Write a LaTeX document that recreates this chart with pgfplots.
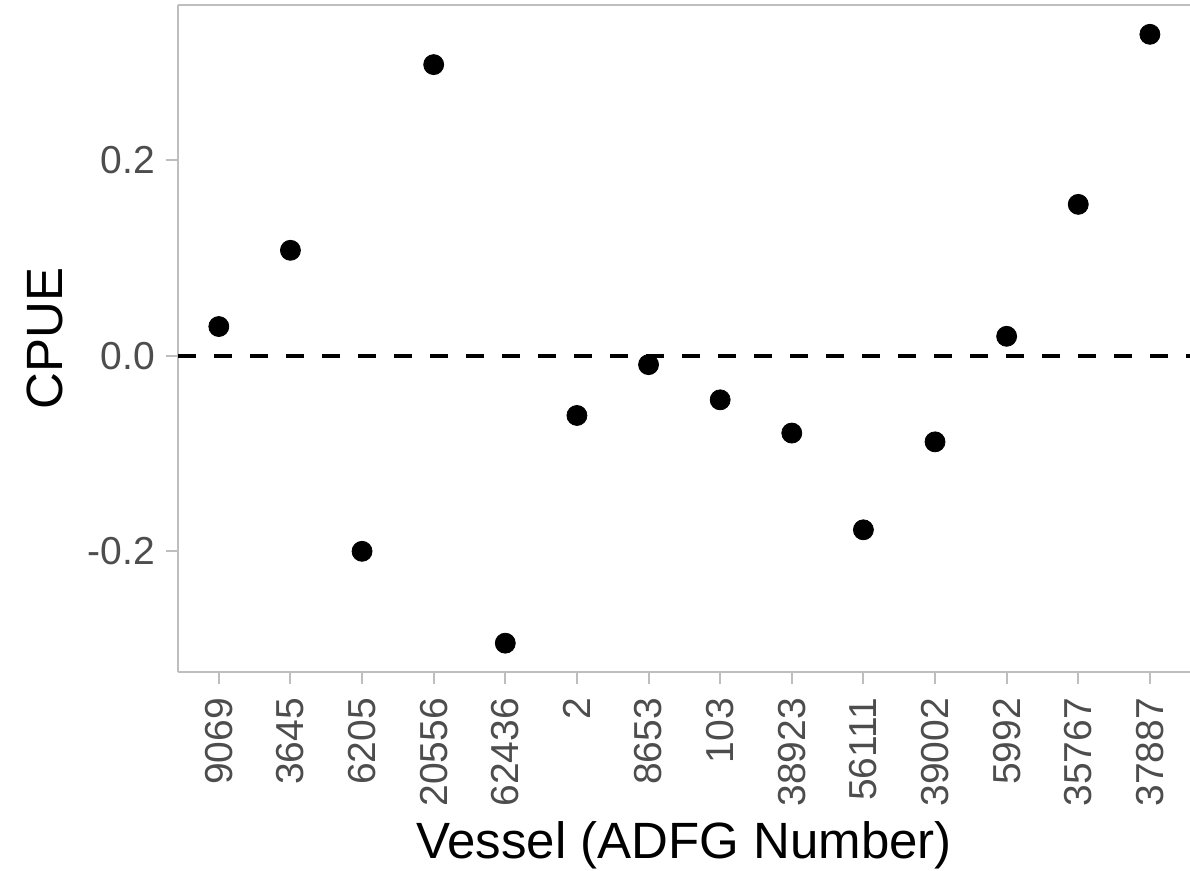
\documentclass[border=0pt]{standalone}
\usepackage{pgfplots}
\pgfplotsset{compat=1.18}
\usepackage{fontspec}
\setmainfont{Liberation Sans}

\definecolor{axisgray}{HTML}{BEBEBE}
\definecolor{ticktext}{HTML}{4D4D4D}

% CPUE effect by vessel, in plotting order
\pgfplotstableread{
idx cpue
1   0.030
2   0.108
3  -0.200
4   0.298
5  -0.294
6  -0.061
7  -0.009
8  -0.045
9  -0.079
10 -0.178
11 -0.088
12  0.020
13  0.155
14  0.329
}\cpuedata

\begin{document}
\begin{tikzpicture}
\begin{axis}[
  name=ax,
  scale only axis,
  width=506pt, height=333.5pt,
  xmin=0.43, xmax=14.56,
  ymin=-0.3235, ymax=0.3590,
  axis lines*=left,
  axis line style={axisgray, line width=1pt},
  every tick/.style={axisgray, line width=1pt},
  tick align=outside,
  major tick length=6pt,
  xtick={1,...,14},
  xticklabels={9069,3645,6205,20556,62436,2,8653,103,38923,56111,39002,5992,35767,37887},
  ytick={-0.2,0,0.2},
  yticklabels={-0.2,0.0,0.2},
  xticklabel shift=3.5pt,
  yticklabel shift=2pt,
  xticklabel style={rotate=90, anchor=east, text=ticktext,
    font=\fontsize{19.5}{23}\selectfont},
  yticklabel style={text=ticktext, font=\fontsize{19.5}{23}\selectfont},
  xlabel={Vessel (ADFG Number)},
  ylabel={CPUE},
  xlabel style={at={(axis description cs:0.5,-0.2789)}, anchor=base,
    font=\fontsize{25.5}{30}\selectfont},
  ylabel style={at={(axis description cs:-0.1146,0.5)}, anchor=base,
    font=\fontsize{25.5}{30}\selectfont},
  clip=false,
]
  % zero reference
  \addplot[black, line width=2pt, dash pattern=on 9pt off 9pt]
    coordinates {(0.43,0) (14.56,0)};
  % vessel estimates
  \addplot[only marks, mark=*, mark size=5pt, black]
    table[x=idx, y=cpue] {\cpuedata};
  % top border of the panel
  \draw[axisgray, line width=1pt] (rel axis cs:0,1) -- (rel axis cs:1,1);
\end{axis}
\pgfresetboundingbox
\path[use as bounding box] ([xshift=-89pt,yshift=-99pt]ax.south west)
  rectangle ([yshift=2.5pt]ax.north east);
\end{tikzpicture}
\end{document}
